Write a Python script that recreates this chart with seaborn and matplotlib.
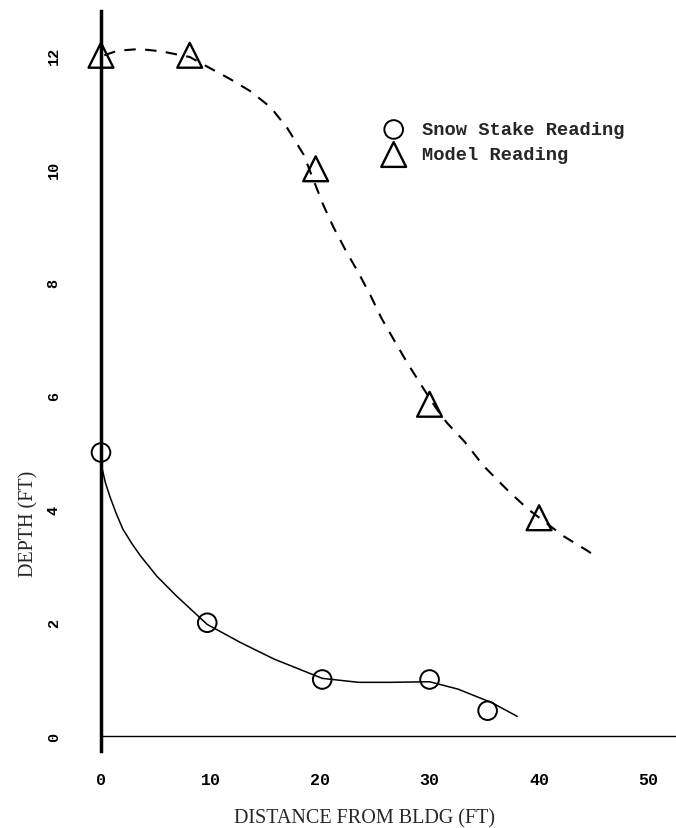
import seaborn as sns
import matplotlib.pyplot as plt

# measured readings
snow_x = [0, 9.7, 20.2, 30.0, 35.3]
snow_y = [5.0, 2.0, 1.0, 1.0, 0.45]
model_x = [0, 8.1, 19.6, 30.0, 40.0]
model_y = [12.0, 12.0, 10.0, 5.85, 3.85]

# hand-drawn fit curves
snow_curve_x = [0.05, 0.4, 0.8, 1.4, 2.0, 2.8, 3.6, 5.1, 6.9, 9.7, 12.75, 15.8, 20.2, 23.5, 26.5, 30.0, 32.6, 35.7, 38.0]
snow_curve_y = [4.76, 4.47, 4.23, 3.92, 3.65, 3.40, 3.18, 2.82, 2.47, 1.97, 1.65, 1.36, 1.02, 0.95, 0.95, 0.96, 0.83, 0.59, 0.35]
model_curve_x = [0.3, 1.5, 3.5, 5.5, 8.1, 9.7, 11.8, 13.7, 15.5, 17.0, 18.5, 19.3, 20.3, 21.2, 22.4, 23.5,
                 24.6, 25.6, 26.7, 27.9, 29.3, 30.6, 31.6, 33.2, 34.9, 37.2, 39.0, 40.5, 42.2, 44.4, 45.1]
model_curve_y = [12.0, 12.08, 12.11, 12.07, 11.97, 11.8, 11.58, 11.36, 11.08, 10.72, 10.25, 9.85, 9.36, 8.98,
                 8.54, 8.17, 7.77, 7.37, 7.0, 6.6, 6.17, 5.78, 5.52, 5.19, 4.77, 4.32, 4.0, 3.78, 3.53, 3.27, 3.18]

x_ticks = [0, 10, 20, 30, 40, 50]
y_ticks = [0, 2, 4, 6, 8, 10, 12]

sns.set_style('white')
plt.rcParams['font.family'] = ['Liberation Serif', 'DejaVu Serif']

fig = plt.figure(figsize=(6.76, 8.29), dpi=100)
ax = fig.add_axes([0.1494, 0.0929, 0.8506, 0.8926])

sns.lineplot(x=snow_curve_x, y=snow_curve_y, color='black', linewidth=1.1, ax=ax)
sns.lineplot(x=model_curve_x, y=model_curve_y, color='black', linewidth=1.5, ax=ax)
ax.lines[-1].set_dashes([5.5, 4.5])

sns.scatterplot(x=snow_x, y=snow_y, marker='o', s=180, facecolor='none', edgecolor='black',
                linewidth=1.4, label='Snow Stake Reading', clip_on=False, zorder=3, ax=ax)
sns.scatterplot(x=model_x, y=model_y, marker='^', s=320, facecolor='none', edgecolor='black',
                linewidth=1.7, label='Model Reading', clip_on=False, zorder=3, ax=ax)

ax.set_xlim(0, 52.5)
ax.set_ylim(-0.26, 12.78)
ax.spines['bottom'].set_position(('data', 0))
ax.spines['top'].set_visible(False)
ax.spines['right'].set_visible(False)
ax.spines['left'].set_linewidth(2.5)
ax.spines['bottom'].set_linewidth(1.0)
ax.spines['left'].set_color('black')
ax.spines['bottom'].set_color('black')

ax.set_xticks(x_ticks)
ax.set_yticks(y_ticks)
ax.tick_params(axis='x', direction='out', length=16, width=2, pad=10, labelsize=12, colors='black')
ax.tick_params(axis='y', direction='out', length=13, width=1.6, pad=16, labelsize=11, colors='black',
               labelrotation=90)
for lab in ax.get_xticklabels() + ax.get_yticklabels():
    lab.set_family('Liberation Mono')
    lab.set_weight('bold')
for lab in ax.get_yticklabels():
    lab.set_va('center')

ax.set_xlabel('DISTANCE FROM BLDG (FT)', fontsize=14.5)
ax.set_ylabel('DEPTH (FT)', fontsize=14.5)
ax.xaxis.set_label_coords(0.459, -0.078)
ax.yaxis.set_label_coords(-0.108, 0.308)

ax.legend(loc='upper left', bbox_to_anchor=(0.4927, 0.851), frameon=False,
          handlelength=1.0, handletextpad=1.0, labelspacing=0.42, borderpad=0, borderaxespad=0,
          prop={'family': 'Liberation Mono', 'weight': 'bold', 'size': 13.5})

fig.savefig('out.png', dpi=100)
